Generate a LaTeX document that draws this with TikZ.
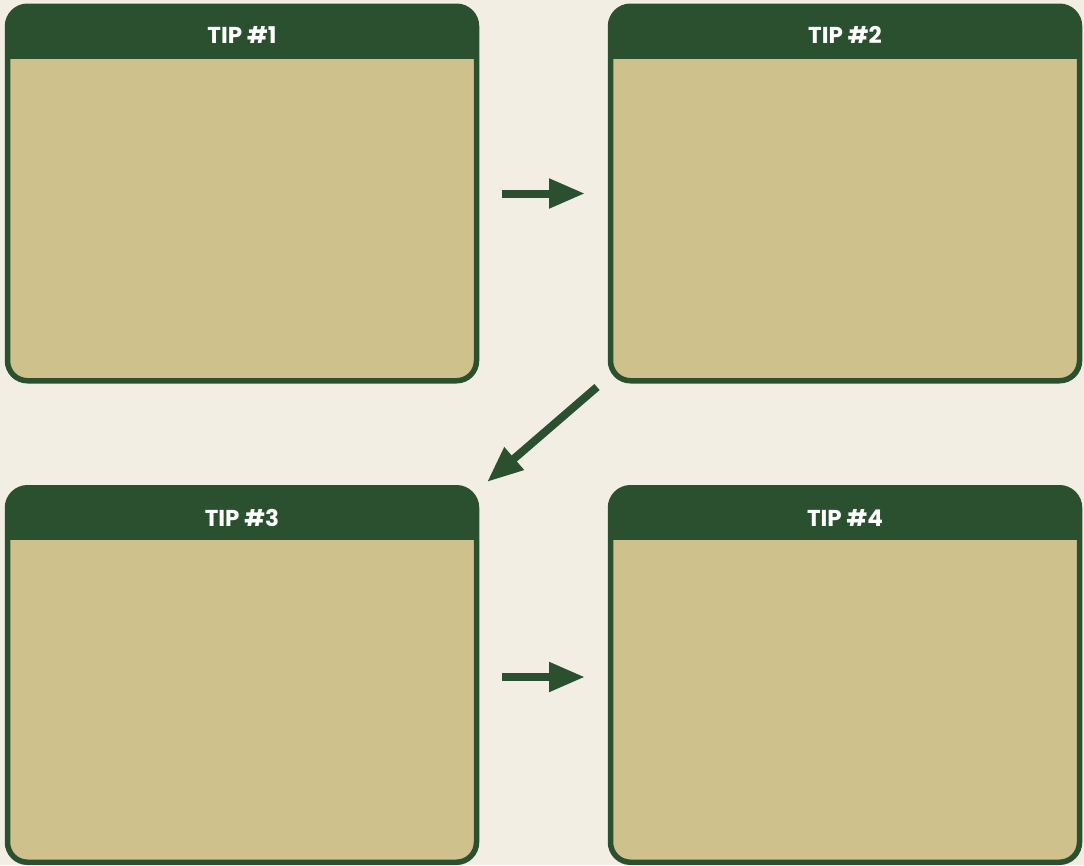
\documentclass[tikz,border=0pt]{standalone}
\usepackage{fontspec}
\setmainfont{Poppins}
\usetikzlibrary{arrows.meta,calc}
\definecolor{bgc}{RGB}{242,238,227}
\definecolor{dgreen}{RGB}{43,80,48}
\definecolor{beige}{RGB}{207,193,139}
\tikzset{
  box/.style={fill=beige, draw=none, rounded corners=20pt, minimum width=469pt, minimum height=374.5pt, inner sep=0pt, outer sep=0pt},
  edge/.style={draw=dgreen, line width=5.5pt, rounded corners=20pt},
  hdr/.style={fill=dgreen},
  title/.style={text=white, font=\fontsize{23}{27}\selectfont\bfseries, inner sep=0pt},
  flow/.style={draw=dgreen, line width=8pt, -{Triangle[length=36pt,width=28pt]}}
}
\begin{document}
\begin{tikzpicture}[x=1pt,y=-1pt]
\fill[bgc] (0,0) rectangle (1084,865);
\useasboundingbox (0,0) rectangle (1084,865);
\node[box] (b1) at (242,193.5) {};
\node[box] (b2) at (845,193.5) {};
\node[box] (b3) at (242,675) {};
\node[box] (b4) at (845,675) {};
\foreach \b in {b1,b2,b3,b4}{
  \begin{scope}
    \clip[rounded corners=20pt] (\b.south west) rectangle (\b.north east);
    \fill[hdr] ($(\b.north west)+(-5,-5)$) rectangle ($(\b.north east)+(5,52.5)$);
  \end{scope}
  \draw[edge] (\b.south west) rectangle (\b.north east);
}
\node[title] (t1) at ($(b1.north)+(0,29)$) {TIP \#1};
\node[title] (t2) at ($(b2.north)+(0,29)$) {TIP \#2};
\node[title] (t3) at ($(b3.north)+(0,30.5)$) {TIP \#3};
\node[title] (t4) at ($(b4.north)+(0,30.5)$) {TIP \#4};
\coordinate (d1) at (597,387);
\coordinate (d2) at (487,482);
\draw[flow, shorten <=25.5pt, shorten >=25.5pt] (b1.east) -- (b2.west);
\draw[flow] (d1) -- (d2);
\draw[flow, shorten <=25.5pt, shorten >=25.5pt] ($(b3.east)+(0,2)$) -- ($(b4.west)+(0,2)$);
\end{tikzpicture}
\end{document}
